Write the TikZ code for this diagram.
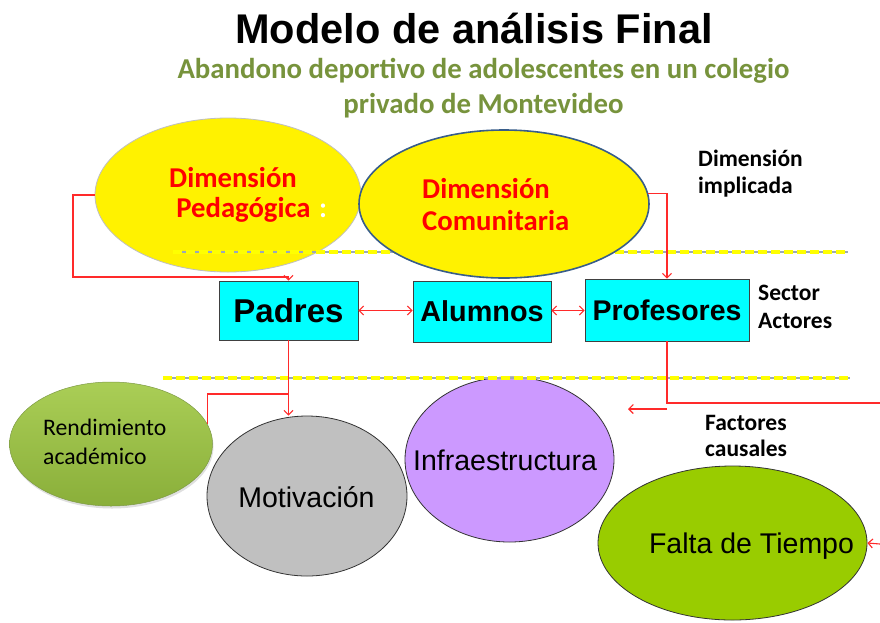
\documentclass[tikz,border=0pt]{standalone}
\usepackage{fontspec}
\setmainfont{Liberation Sans}
\newfontfamily\calibri{Carlito}
\usetikzlibrary{arrows.meta,shapes.geometric,shadows}
\definecolor{subgreen}{HTML}{77933C}
\definecolor{boxcyan}{HTML}{00FFFF}
\definecolor{boxline}{HTML}{404040}
\definecolor{comline}{HTML}{385D8A}
\definecolor{motgray}{HTML}{C0C0C0}
\definecolor{infpurple}{HTML}{CC99FF}
\definecolor{faltagreen}{HTML}{99CC00}
\definecolor{rendtop}{HTML}{AACE56}
\definecolor{rendbot}{HTML}{8AAF3A}
\definecolor{rendline}{HTML}{7D9A45}
\definecolor{dashgray}{HTML}{9AA8B8}
\definecolor{dashyellow}{HTML}{FFFF00}
\definecolor{connred}{HTML}{FF2A2A}
\begin{document}
\begin{tikzpicture}[x=1pt,y=-1pt,
  lbl/.style={inner sep=0pt, anchor=base},
  lblw/.style={inner sep=0pt, anchor=base west},
  conn/.style={draw=connred, color=connred, line width=1.1pt},
  arr/.style={conn, -{Straight Barb[length=4.5pt,width=9pt]}},
  darr/.style={conn, {Straight Barb[length=4.5pt,width=9pt]}-{Straight Barb[length=4.5pt,width=9pt]}},
  oval/.style={ellipse, inner sep=0pt},
  box/.style={rectangle, fill=boxcyan, draw=boxline, line width=0.8pt, inner sep=0pt},
  greyline/.style={draw=dashgray, line width=1.3pt},
  yelldash/.style={draw=dashyellow, line width=4pt, dash pattern=on 9pt off 4pt},
  redtxt/.style={lbl, text=red, font=\calibri\bfseries\fontsize{28.7}{32}\selectfont},
  blktxt/.style={lblw, font=\calibri\bfseries\fontsize{23.5}{27}\selectfont},
  ovaltxt/.style={lbl, font=\fontsize{28.5}{32}\selectfont},
  subtxt/.style={lbl, text=subgreen, font=\calibri\bfseries\fontsize{28.8}{32}\selectfont},
]
\useasboundingbox[fill=white] (0,0) rectangle (880,622);

% titles
\node[lbl, font=\bfseries\fontsize{41.5}{48}\selectfont] (title) at (474,43) {Modelo de análisis Final};
\node[subtxt] (sub1) at (483.5,78) {Abandono deportivo de adolescentes en un colegio};
\node[subtxt] (sub2) at (483.5,113) {privado de Montevideo};

% dimension ellipses
\node[oval, minimum width=266pt, minimum height=154pt, fill=yellow, draw=gray!50, line width=0.8pt] (ped) at (228,195) {};
\coordinate (l1a) at (173,252);
\coordinate (l1b) at (848,252);
\draw[greyline] (l1a) -- (l1b);
\draw[yelldash] (l1a) -- (l1b);
\node[oval, minimum width=290pt, minimum height=148pt, fill=yellow, draw=comline, line width=1.6pt] (com) at (504,204) {};

\node[redtxt] (pedt1) at (233,187) {Dimensión};
\node[redtxt] (pedt2) at (243.5,217) {Pedagógica};
\node[lbl, text=white, font=\calibri\bfseries\fontsize{28.7}{32}\selectfont] (pedcolon) at (323,217) {:};
\node[redtxt, anchor=base west] (comt1) at (422,198) {Dimensión};
\node[redtxt, anchor=base west] (comt2) at (422,230) {Comunitaria};

\node[blktxt] (dimimp1) at (698,166) {Dimensión};
\node[blktxt] (dimimp2) at (698,193) {implicada};

% actor boxes
\node[box, minimum width=139pt, minimum height=59pt, font=\bfseries\fontsize{33}{36}\selectfont] (padres) at (288.5,310.5) {Padres};
\node[box, minimum width=138pt, minimum height=61pt, font=\bfseries\fontsize{28.8}{32}\selectfont] (alumnos) at (482,311.5) {Alumnos};
\node[box, minimum width=164pt, minimum height=62pt, font=\bfseries\fontsize{28.5}{32}\selectfont] (prof) at (667,310) {Profesores};

\node[blktxt] (sector1) at (758,300) {Sector};
\node[blktxt] (sector2) at (758,328) {Actores};

% factor ellipses
\node[oval, minimum width=203pt, minimum height=124pt, top color=rendtop, bottom color=rendbot, draw=rendline, line width=0.5pt,
  drop shadow={opacity=0.25, shadow xshift=1pt, shadow yshift=-2.5pt}] (rend) at (111,444) {};
\node[lblw, font=\calibri\fontsize{23.7}{27}\selectfont] (rendt1) at (43,435) {Rendimiento};
\node[lblw, font=\calibri\fontsize{23.7}{27}\selectfont] (rendt2) at (43,464) {académico};

\node[oval, minimum width=200pt, minimum height=160pt, fill=motgray, draw=black!80, line width=0.8pt] (mot) at (307,496) {};
\node[ovaltxt] (mott) at (306.5,507) {Motivación};

\node[oval, minimum width=209pt, minimum height=165pt, fill=infpurple, draw=black!80, line width=0.8pt] (inf) at (509.5,459.5) {};
\node[ovaltxt] (inft) at (505,470) {Infraestructura};

\node[oval, minimum width=269pt, minimum height=154pt, fill=faltagreen, draw=black!80, line width=0.8pt] (falta) at (732.5,543) {};
\node[ovaltxt] (faltat) at (751.5,553) {Falta de Tiempo};

\coordinate (l2a) at (163,378);
\coordinate (l2b) at (850,378);
\draw[greyline] (l2a) -- (l2b);
\draw[yelldash] (l2a) -- (l2b);

\node[blktxt] (fact1) at (705,430) {Factores};
\node[blktxt] (fact2) at (705,456) {causales};

% connectors
\coordinate (c1) at (73,277);
\draw[arr] (ped.west) -| (c1) -| (padres.north);
\draw[arr] (com.4) -| (prof.north);
\draw[darr] (padres.east) -- (alumnos.west |- padres.east);
\draw[darr] (alumnos.east |- padres.east) -- (prof.west |- padres.east);
\coordinate (br) at (288.5,394);
\draw[arr] (padres.south) -- (padres.south |- mot.north);
\draw[conn] (br) -| (rend.12);
\coordinate (pe) at (880,403);
\draw[conn] (prof.south) |- (pe);
\coordinate (ra) at (667,409);
\coordinate (rb) at (628,409);
\draw[arr] (ra) -- (rb);
\coordinate (fe) at (880,544);
\draw[arr] (fe) -- (falta.east);
\end{tikzpicture}
\end{document}
